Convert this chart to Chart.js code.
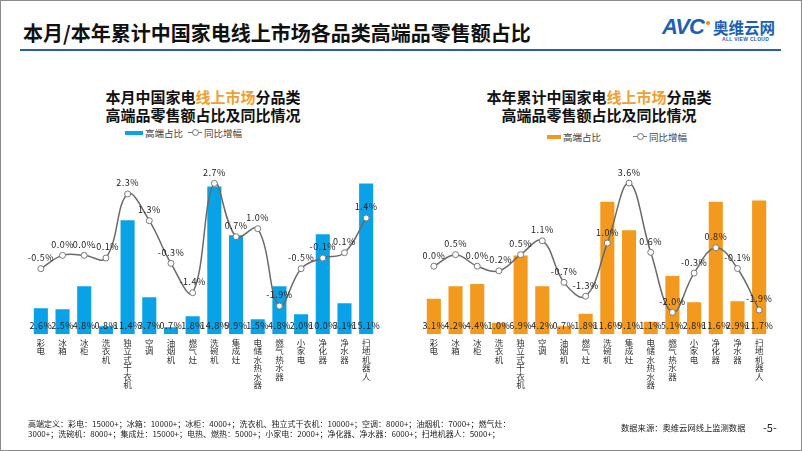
<!DOCTYPE html>
<html>
<head>
<meta charset="utf-8">
<script src="https://cdn.jsdelivr.net/npm/chart.js@4/dist/chart.umd.min.js"></script>
<style>
  html, body { margin:0; padding:0; background:#fff; }
  body { width:802px; height:451px; position:relative; overflow:hidden;
         font-family:"Noto Sans CJK SC","Noto Sans",sans-serif; }
  .abs { position:absolute; white-space:nowrap; }
  #frame { position:absolute; left:0; top:0; width:802px; height:451px; box-sizing:border-box;
           border:1px solid #8c8c8c; pointer-events:none; }
  .sub { font-size:15px; font-weight:bold; color:#111; text-align:center; line-height:18px; }
  .hl { color:#f0a030; }
  .leg { font-size:9.5px; color:#444; line-height:12px; }
  canvas { position:absolute; }
</style>
</head>
<body>
<div id="frame"></div>

<div class="abs" style="left:23px;top:20px;font-size:20px;font-weight:bold;color:#111;line-height:26px;">本月/本年累计中国家电线上市场各品类高端品零售额占比</div>
<div class="abs" style="left:20px;top:49px;width:761px;height:2px;background:#2b5fa8;"></div>

<!-- logo -->
<div class="abs" style="left:662px;top:14px;font-size:22px;font-weight:900;font-style:italic;color:#1c5fb5;letter-spacing:-1px;line-height:26px;font-family:'Liberation Sans',sans-serif;">AVC</div>
<div class="abs" style="left:706px;top:21px;width:4px;height:4px;border-radius:2px;background:#f08a1c;"></div>
<div class="abs" style="left:713px;top:18px;font-size:15.5px;font-weight:bold;color:#1c5fb5;line-height:18px;">奥维云网</div>
<div class="abs" style="left:722px;top:36px;font-size:5px;font-weight:bold;color:#1c5fb5;line-height:6px;font-family:'Liberation Sans',sans-serif;letter-spacing:0.3px;">ALL VIEW CLOUD</div>

<!-- sub titles -->
<div class="abs sub" style="left:80px;top:88px;width:246px;">本月中国家电<span class="hl">线上市场</span>分品类<br>高端品零售额占比及同比情况</div>
<div class="abs sub" style="left:470px;top:88px;width:258px;">本年累计中国家电<span class="hl">线上市场</span>分品类<br>高端品零售额占比及同比情况</div>

<!-- legends -->
<div class="abs" style="left:125px;top:131px;width:18px;height:4px;background:#0aa2e6;"></div>
<div class="abs leg" style="left:145px;top:127px;">高端占比</div>
<div class="abs" style="left:188px;top:132px;width:14px;height:1px;background:#777;"></div>
<div class="abs" style="left:192px;top:129px;width:5px;height:5px;border-radius:4px;border:1px solid #777;background:#fff;"></div>
<div class="abs leg" style="left:204px;top:127px;">同比增幅</div>

<div class="abs" style="left:547px;top:135px;width:14px;height:4px;background:#f39a1e;"></div>
<div class="abs leg" style="left:563px;top:131px;">高端占比</div>
<div class="abs" style="left:633px;top:136px;width:14px;height:1px;background:#777;"></div>
<div class="abs" style="left:637px;top:133px;width:5px;height:5px;border-radius:4px;border:1px solid #777;background:#fff;"></div>
<div class="abs leg" style="left:649px;top:131px;">同比增幅</div>

<canvas id="c1" width="357" height="302" style="left:25px;top:149px;"></canvas>
<canvas id="c2" width="357" height="302" style="left:418px;top:149px;"></canvas>

<!-- footer -->
<div class="abs" style="left:28px;top:419px;font-size:8px;color:#222;line-height:10px;">高端定义：彩电：15000+；冰箱：10000+；冰柜：4000+；洗衣机、独立式干衣机：10000+；空调：8000+；油烟机：7000+；燃气灶：<br>3000+；洗碗机：8000+；集成灶：15000+；电热、燃热：5000+；小家电：2000+；净化器、净水器：6000+；扫地机器人：5000+；</div>
<div class="abs" style="left:621px;top:421px;font-size:8.3px;color:#222;line-height:12px;">数据来源：奥维云网线上监测数据</div>
<div class="abs" style="left:763px;top:420px;font-size:11px;color:#222;line-height:14px;">-5-</div>

<script>
const categories = ["彩电","冰箱","冰柜","洗衣机","独立式干衣机","空调","油烟机","燃气灶","洗碗机","集成灶","电储水热水器","燃气热水器","小家电","净化器","净水器","扫地机器人"];
const monthShare = [2.6, 2.5, 4.8, 0.8, 11.4, 3.7, 0.7, 1.8, 14.8, 9.9, 1.5, 4.8, 2.0, 10.0, 3.1, 15.1];
const monthYoY   = [-0.5, 0.0, 0.0, -0.1, 2.3, 1.3, -0.3, -1.4, 2.7, 0.7, 1.0, -1.9, -0.5, -0.1, 0.1, 1.4];
const ytdShare   = [3.1, 4.2, 4.4, 1.0, 6.9, 4.2, 0.7, 1.8, 11.6, 9.1, 1.1, 5.1, 2.8, 11.6, 2.9, 11.7];
const ytdYoY     = [0.0, 0.5, 0.0, -0.2, 0.5, 1.1, -0.7, -1.3, 1.0, 3.6, 0.6, -2.0, -0.3, 0.8, -0.1, -1.9];

const CJK = '"Noto Sans CJK SC","Noto Sans",sans-serif';
const fmt = v => v.toFixed(1) + '%';

const labelPlugin = {
  id: 'valueLabels',
  afterDatasetsDraw(chart) {
    const ctx = chart.ctx;
    ctx.save();
    ctx.font = '9px ' + CJK;
    if ('letterSpacing' in ctx) ctx.letterSpacing = '0.5px';
    ctx.fillStyle = '#222';
    ctx.textAlign = 'center';
    ctx.textBaseline = 'middle';
    const base = chart.scales.y.getPixelForValue(0);
    const barMeta = chart.getDatasetMeta(0);
    const barData = chart.data.datasets[0].data;
    barMeta.data.forEach((el, i) => ctx.fillText(fmt(barData[i]), el.x, base - 9));
    const lineMeta = chart.getDatasetMeta(1);
    const lineData = chart.data.datasets[1].data;
    lineMeta.data.forEach((el, i) => ctx.fillText(fmt(lineData[i]), el.x, el.y - 11));
    ctx.restore();
  }
};

function makeChart(id, share, yoy, color, yMax, y1Min, y1Max) {
  new Chart(document.getElementById(id), {
    type: 'bar',
    data: {
      labels: categories.map(c => c.split('')),
      datasets: [
        { type: 'bar', label: '高端占比', data: share, backgroundColor: color, yAxisID: 'y',
          barPercentage: 0.65, categoryPercentage: 1.0, order: 2 },
        { type: 'line', label: '同比增幅', data: yoy, yAxisID: 'y1', borderColor: '#6a6a6a', borderWidth: 1.5,
          tension: 0.4, pointRadius: 3, pointBackgroundColor: '#fff', pointBorderColor: '#7a7a7a',
          pointBorderWidth: 1, order: 1 }
      ]
    },
    options: {
      responsive: false, animation: false, devicePixelRatio: 1,
      layout: { padding: 0 },
      plugins: { legend: { display: false }, tooltip: { enabled: false }, title: { display: false } },
      scales: {
        x: {
          grid: { display: false, drawTicks: false }, border: { display: false },
          ticks: { autoSkip: false, maxRotation: 0, minRotation: 0, padding: 4, color: '#333',
                   font: { family: CJK, size: 8.5, lineHeight: 1.0 } },
          afterFit(s) { s.height = 302 - 185.3; }
        },
        y: { display: false, min: 0, max: yMax },
        y1: { display: false, min: y1Min, max: y1Max }
      }
    },
    plugins: [labelPlugin]
  });
}

makeChart('c1', monthShare, monthYoY, '#0aa2e6', 18.04, -2.96, 3.8);
makeChart('c2', ytdShare, ytdYoY, '#f39a1e', 15.77, -2.95, 4.86);
</script>
</body>
</html>
